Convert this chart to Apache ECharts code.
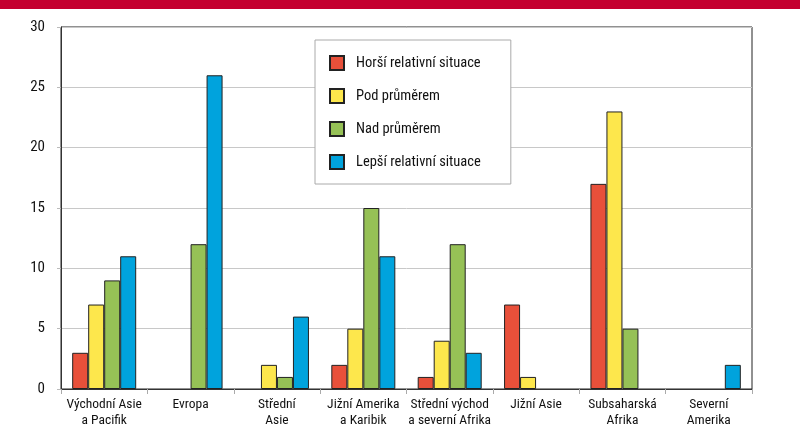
<!DOCTYPE html>
<html><head><meta charset="utf-8">
<script src="https://cdn.jsdelivr.net/npm/echarts@6/dist/echarts.min.js"></script>
<style>html,body{margin:0;padding:0;background:#fff}#c{width:800px;height:429px}</style>
</head><body><div id="c"></div>
<script>
const categories = ['Východní Asie\na Pacifik','Evropa','Střední\nAsie','Jižní Amerika\na Karibik','Střední východ\na severní Afrika','Jižní Asie','Subsaharská\nAfrika','Severní\nAmerika'];
const seriesNames = ['Horší relativní situace','Pod průměrem','Nad průměrem','Lepší relativní situace'];
const horsi = [3, null, null, 2, 1, 7, 17, null];
const podPrumerem = [7, null, 2, 5, 4, 1, 23, null];
const nadPrumerem = [9, 12, 1, 15, 12, null, 5, null];
const lepsi = [11, 26, 6, 11, 3, null, null, 2];
const yTicks = {min: 0, max: 30, interval: 5};
const colors = ['#e8503a','#fde74c','#96c156','#00a3dd'];
const font = "Roboto";
const fstyle = 'condensed';

const chart = echarts.init(document.getElementById('c'), null, {renderer:'canvas'});
const data = [horsi, podPrumerem, nadPrumerem, lepsi];
chart.setOption({
  animation: false,
  textStyle: {fontFamily: font, fontStyle: fstyle},
  graphic: [{type:'rect', left:0, top:0, shape:{x:0,y:0,width:800,height:9}, style:{fill:'#c4002f'}}],
  grid: {left:61, right:48, top:27, bottom:40, show:true, borderColor:'#222', borderWidth:1},
  legend: {
    orient:'vertical', left:315, top:40,
    padding:[15,30,14,14], itemGap:17, itemWidth:14, itemHeight:14,
    backgroundColor:'#fff', borderColor:'#aaa', borderWidth:1,
    textStyle:{fontFamily:font, fontStyle:fstyle, fontSize:14.5, color:'#111', padding:[0,0,0,7]},
    icon:'rect', data: seriesNames
  },
  xAxis: {
    type:'category', data: categories,
    axisLine:{lineStyle:{color:'#333', width:1}},
    axisTick:{show:true, length:5, lineStyle:{color:'#aaa'}},
    axisLabel:{fontFamily:font, fontStyle:fstyle, fontSize:13.5, color:'#111', lineHeight:16, margin:8, interval:0}
  },
  yAxis: {
    type:'value', min:yTicks.min, max:yTicks.max, interval:yTicks.interval,
    axisLine:{show:true, lineStyle:{color:'#333'}},
    axisTick:{show:true, length:4, lineStyle:{color:'#bbb'}},
    splitLine:{lineStyle:{color:'#c8c8c8', width:1}},
    axisLabel:{fontFamily:font, fontStyle:fstyle, fontSize:15, color:'#111', margin:16}
  },
  series: seriesNames.map((n,i)=>({
    name:n, type:'bar', data:data[i], barWidth:16, barGap:'0%',
    itemStyle:{color:colors[i], borderColor:'#222', borderWidth:1}
  }))
});
</script></body></html>
